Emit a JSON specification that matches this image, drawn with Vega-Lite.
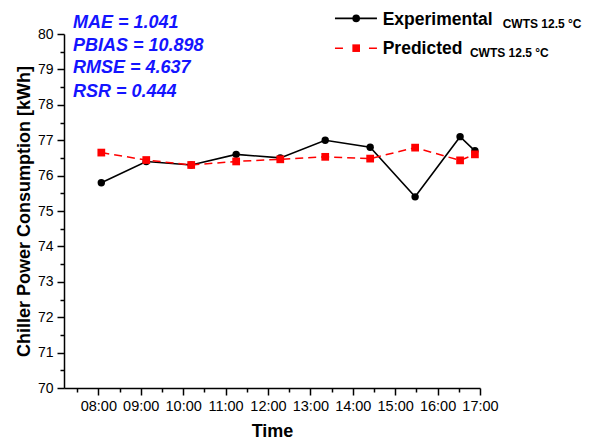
{
  "$schema": "https://vega.github.io/schema/vega-lite/v6.json",
  "width": 416,
  "height": 354,
  "autosize": "none",
  "padding": {"left": 64, "top": 34, "right": 112, "bottom": 52},
  "background": "white",
  "config": {
    "view": {"stroke": null},
    "font": "Liberation Sans",
    "axis": {
      "labelFont": "Liberation Sans",
      "labelFontSize": 14,
      "labelColor": "black",
      "labelOverlap": false,
      "labelFlush": false,
      "tickColor": "black",
      "domainColor": "black",
      "domainWidth": 1.5,
      "tickWidth": 1.5,
      "grid": false,
      "titleFont": "Liberation Sans",
      "titleFontSize": 18,
      "titleFontWeight": "bold",
      "titleColor": "black"
    }
  },
  "datasets": {
    "series": [
      {"time": 8.07, "Experimental": 75.8, "Predicted": 76.65},
      {"time": 9.13, "Experimental": 76.4, "Predicted": 76.44},
      {"time": 10.19, "Experimental": 76.3, "Predicted": 76.3},
      {"time": 11.25, "Experimental": 76.6, "Predicted": 76.4},
      {"time": 12.29, "Experimental": 76.5, "Predicted": 76.46},
      {"time": 13.35, "Experimental": 77.0, "Predicted": 76.53},
      {"time": 14.41, "Experimental": 76.8, "Predicted": 76.48},
      {"time": 15.47, "Experimental": 75.4, "Predicted": 76.79},
      {"time": 16.53, "Experimental": 77.1, "Predicted": 76.43},
      {"time": 16.88, "Experimental": 76.7, "Predicted": 76.6}
    ],
    "stats": [
      {"label": "MAE = 1.041", "x": 7.4, "y": 80.16},
      {"label": "PBIAS = 10.898", "x": 7.4, "y": 79.53},
      {"label": "RMSE = 4.637", "x": 7.4, "y": 78.89},
      {"label": "RSR = 0.444", "x": 7.4, "y": 78.21}
    ],
    "legendLines": [
      {"series": "Experimental", "x": 13.58, "y": 80.44},
      {"series": "Experimental", "x": 14.57, "y": 80.44}
    ],
    "legendDash": [
      {"series": "Predicted", "x": 13.58, "y": 79.6},
      {"series": "Predicted", "x": 14.57, "y": 79.6}
    ],
    "legendMarks": [
      {"series": "Experimental", "x": 14.08, "y": 80.44},
      {"series": "Predicted", "x": 14.08, "y": 79.6}
    ],
    "legendLabels": [
      {"label": "Experimental", "x": 14.705, "y": 80.254},
      {"label": "Predicted", "x": 14.705, "y": 79.435}
    ],
    "legendSubs": [
      {"label": "CWTS 12.5 °C", "x": 17.534, "y": 80.16},
      {"label": "CWTS 12.5 °C", "x": 16.763, "y": 79.34}
    ]
  },
  "layer": [
    {
      "data": {"name": "series"},
      "mark": {"type": "line", "color": "black", "strokeWidth": 1.6},
      "encoding": {
        "x": {
          "field": "time", "type": "quantitative",
          "scale": {"domain": [7.19, 17], "nice": false, "zero": false},
          "axis": {
            "orient": "bottom",
            "title": "Time",
            "values": [8, 9, 10, 11, 12, 13, 14, 15, 16, 17],
            "labelExpr": "(datum.value < 10 ? '0' : '') + datum.value + ':00'",
            "labelFontSize": 14.5,
            "tickSize": 7,
            "labelPadding": 4,
            "titlePadding": 10
          }
        },
        "y": {
          "field": "Experimental", "type": "quantitative",
          "scale": {"domain": [70, 80], "nice": false, "zero": false},
          "axis": {
            "orient": "left",
            "title": "Chiller Power Consumption [kWh]",
            "values": [70, 71, 72, 73, 74, 75, 76, 77, 78, 79, 80],
            "tickSize": 7,
            "labelPadding": 4,
            "titlePadding": 4
          }
        }
      }
    },
    {
      "data": {"name": "series"},
      "mark": {"type": "point", "opacity": 0},
      "encoding": {
        "x": {
          "field": "time", "type": "quantitative",
          "axis": {
            "orient": "bottom", "title": null, "labels": false, "domain": false,
            "values": [7.5, 8.5, 9.5, 10.5, 11.5, 12.5, 13.5, 14.5, 15.5, 16.5],
            "tickSize": 4
          }
        },
        "y": {
          "field": "Experimental", "type": "quantitative",
          "axis": {
            "orient": "left", "title": null, "labels": false, "domain": false,
            "values": [70.5, 71.5, 72.5, 73.5, 74.5, 75.5, 76.5, 77.5, 78.5, 79.5],
            "tickSize": 4
          }
        }
      }
    },
    {
      "data": {"name": "series"},
      "mark": {"type": "point", "shape": "circle", "filled": true, "color": "black", "opacity": 1, "size": 55},
      "encoding": {
        "x": {"field": "time", "type": "quantitative", "axis": null},
        "y": {"field": "Experimental", "type": "quantitative", "axis": null}
      }
    },
    {
      "data": {"name": "series"},
      "mark": {"type": "line", "color": "#FF0000", "strokeWidth": 1.5, "strokeDash": [8, 5]},
      "encoding": {
        "x": {"field": "time", "type": "quantitative", "axis": null},
        "y": {"field": "Predicted", "type": "quantitative", "axis": null}
      }
    },
    {
      "data": {"name": "series"},
      "mark": {"type": "point", "shape": "square", "filled": true, "color": "#FF0000", "opacity": 1, "size": 60},
      "encoding": {
        "x": {"field": "time", "type": "quantitative", "axis": null},
        "y": {"field": "Predicted", "type": "quantitative", "axis": null}
      }
    },
    {
      "data": {"name": "stats"},
      "mark": {"type": "text", "align": "left", "baseline": "alphabetic", "fontSize": 18, "fontWeight": "bold", "fontStyle": "italic", "color": "#1414FF"},
      "encoding": {
        "x": {"field": "x", "type": "quantitative", "axis": null},
        "y": {"field": "y", "type": "quantitative", "axis": null},
        "text": {"field": "label"}
      }
    },
    {
      "data": {"name": "legendLines"},
      "mark": {"type": "line", "color": "black", "strokeWidth": 1.6},
      "encoding": {
        "x": {"field": "x", "type": "quantitative", "axis": null},
        "y": {"field": "y", "type": "quantitative", "axis": null}
      }
    },
    {
      "data": {"name": "legendDash"},
      "mark": {"type": "line", "color": "#FF0000", "strokeWidth": 1.5, "strokeDash": [8, 26]},
      "encoding": {
        "x": {"field": "x", "type": "quantitative", "axis": null},
        "y": {"field": "y", "type": "quantitative", "axis": null}
      }
    },
    {
      "data": {"name": "legendMarks"},
      "mark": {"type": "point", "filled": true, "opacity": 1, "size": 58},
      "encoding": {
        "x": {"field": "x", "type": "quantitative", "axis": null},
        "y": {"field": "y", "type": "quantitative", "axis": null},
        "shape": {"field": "series", "type": "nominal", "scale": {"domain": ["Experimental", "Predicted"], "range": ["circle", "square"]}, "legend": null},
        "color": {"field": "series", "type": "nominal", "scale": {"domain": ["Experimental", "Predicted"], "range": ["black", "#FF0000"]}, "legend": null}
      }
    },
    {
      "data": {"name": "legendLabels"},
      "mark": {"type": "text", "align": "left", "baseline": "alphabetic", "fontSize": 17.5, "fontWeight": "bold", "color": "black"},
      "encoding": {
        "x": {"field": "x", "type": "quantitative", "axis": null},
        "y": {"field": "y", "type": "quantitative", "axis": null},
        "text": {"field": "label"}
      }
    },
    {
      "data": {"name": "legendSubs"},
      "mark": {"type": "text", "align": "left", "baseline": "alphabetic", "fontSize": 12, "fontWeight": "bold", "color": "black"},
      "encoding": {
        "x": {"field": "x", "type": "quantitative", "axis": null},
        "y": {"field": "y", "type": "quantitative", "axis": null},
        "text": {"field": "label"}
      }
    }
  ],
  "resolve": {"axis": {"x": "independent", "y": "independent"}}
}
